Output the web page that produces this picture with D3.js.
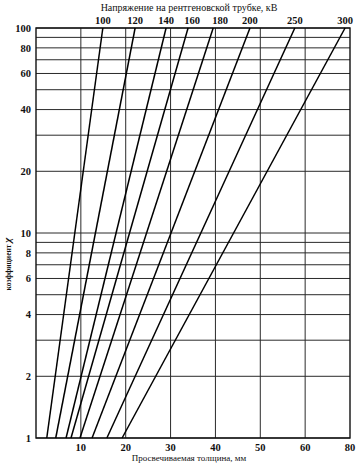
<!DOCTYPE html>
<html><head><meta charset="utf-8">
<script src="https://cdn.jsdelivr.net/npm/d3@7/dist/d3.min.js"></script>
<style>
html,body{margin:0;padding:0;background:#fff;}
text{font-family:"Liberation Serif","Times New Roman",serif;fill:#111;}
</style></head>
<body>
<svg id="chart" width="358" height="464"></svg>
<script>
// ---- data ----
const thicknessTicks = [10, 20, 30, 40, 50, 60, 70];
const thicknessTickLabels = ["10", "20", "30", "40", "50", "60", "80"];
const zTicks = [1, 2, 4, 6, 8, 10, 20, 40, 60, 80, 100];
const zGrid = [1, 2, 3, 4, 5, 6, 7, 8, 9, 10, 20, 30, 40, 50, 60, 70, 80, 90, 100];
const voltages = [100, 120, 140, 160, 180, 200, 250, 300];
const zPoints = [1, 100];
// thickness (mm) at Z = 1 and Z = 100 for each voltage
const thickness100 = [2.4, 14.9];
const thickness120 = [4.4, 22.1];
const thickness140 = [6.7, 29.0];
const thickness160 = [7.8, 33.9];
const thickness180 = [9.8, 39.5];
const thickness200 = [12.5, 47.7];
const thickness250 = [15.8, 57.7];
const thickness300 = [19.2, 68.9];
const seriesThickness = [thickness100, thickness120, thickness140, thickness160,
                         thickness180, thickness200, thickness250, thickness300];
const topTitle = "Напряжение на рентгеновской трубке, кВ";
const xTitle = "Просвечиваемая толщина, мм";
const yTitle = "коэффициент";
const ySymbol = "χ";

// ---- layout ----
const svg = d3.select("#chart");
const L = 36, R = 350, T = 28, B = 438;
const x = d3.scaleLinear().domain([0, 70]).range([L, R]);
const y = d3.scaleLog().domain([1, 100]).range([B, T]);

// grid
svg.append("g").selectAll("line").data(zGrid).join("line")
  .attr("x1", L).attr("x2", R)
  .attr("y1", d => y(d)).attr("y2", d => y(d))
  .attr("stroke", "#2a2a2a").attr("stroke-width", 1);
svg.append("g").selectAll("line").data(thicknessTicks.slice(0, -1)).join("line")
  .attr("x1", d => x(d)).attr("x2", d => x(d))
  .attr("y1", T).attr("y2", B)
  .attr("stroke", "#2a2a2a").attr("stroke-width", 1);

// frame
svg.append("rect").attr("x", L).attr("y", T).attr("width", R - L).attr("height", B - T)
  .attr("fill", "none").attr("stroke", "#111").attr("stroke-width", 1.4);

// lines
const line = d3.line().x(d => x(d[0])).y(d => y(d[1]));
svg.append("g").selectAll("path").data(seriesThickness).join("path")
  .attr("d", s => line(s.map((t, i) => [t, zPoints[i]])))
  .attr("fill", "none").attr("stroke", "#000").attr("stroke-width", 1.5);

// voltage labels on top
svg.append("g").selectAll("text").data(voltages).join("text")
  .attr("x", (v, i) => x(seriesThickness[i][1]))
  .attr("dx", v => (v === 160 ? 4 : v === 180 ? 7 : 0))
  .attr("y", 24).attr("text-anchor", "middle")
  .attr("font-size", 10.5).attr("font-weight", "bold")
  .text(v => v);
svg.append("text").attr("x", 189).attr("y", 11).attr("text-anchor", "middle")
  .attr("font-size", 10).text(topTitle);

// y axis labels
svg.append("g").selectAll("text").data(zTicks).join("text")
  .attr("x", 31).attr("y", d => y(d)).attr("dy", "0.35em")
  .attr("text-anchor", "end").attr("font-size", 10.5).attr("font-weight", "bold")
  .text(d => d);

// x axis labels
svg.append("g").selectAll("text").data(thicknessTicks).join("text")
  .attr("x", d => x(d)).attr("y", 451).attr("text-anchor", "middle")
  .attr("font-size", 10.5).attr("font-weight", "bold")
  .text((d, i) => thicknessTickLabels[i]);
svg.append("text").attr("x", 189).attr("y", 461).attr("text-anchor", "middle")
  .attr("font-size", 9).text(xTitle);

// y title rotated
const yt = svg.append("text").attr("transform", "translate(11,264) rotate(-90)")
  .attr("text-anchor", "middle");
yt.append("tspan").attr("font-size", 7.5).attr("font-weight", "bold").text(yTitle + "  ");
yt.append("tspan").attr("font-size", 11).attr("font-weight", "bold").attr("font-style", "italic").text(ySymbol);
</script>
</body></html>
